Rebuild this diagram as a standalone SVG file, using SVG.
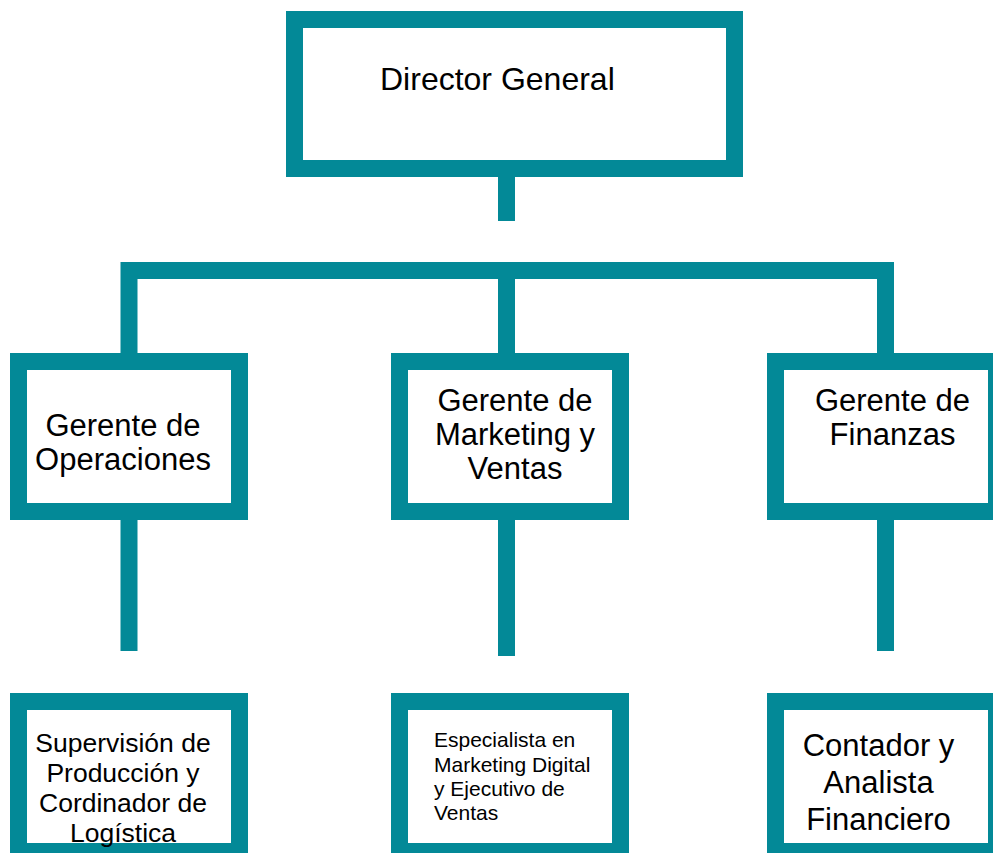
<svg xmlns="http://www.w3.org/2000/svg" width="993" height="853" viewBox="0 0 993 853">
<style>
.box{fill:#ffffff;stroke:#038997;stroke-width:17;}
.con{fill:none;stroke:#038997;stroke-width:17;stroke-linejoin:miter;stroke-linecap:butt;}
text{font-family:"Liberation Sans",Arial,sans-serif;fill:#000000;}
.c{text-anchor:middle;}
</style>
<rect width="993" height="853" fill="#ffffff"/>
<g id="connectors">
<line class="con" x1="506.5" y1="170" x2="506.5" y2="221"/>
<path class="con" d="M129,353 V270.5 H885.5 V353"/>
<line class="con" x1="506.5" y1="270" x2="506.5" y2="353"/>
<line class="con" x1="129" y1="515" x2="129" y2="651"/>
<line class="con" x1="506.5" y1="515" x2="506.5" y2="656"/>
<line class="con" x1="885.5" y1="515" x2="885.5" y2="651"/>
</g>
<g id="director">
<rect class="box" x="294.5" y="19.5" width="440" height="149"/>
<text x="380" y="90" font-size="32">Director General</text>
</g>
<g id="operaciones">
<rect class="box" x="18.5" y="361.5" width="221" height="150"/>
<text class="c" x="123" y="436" font-size="31">Gerente de</text>
<text class="c" x="123" y="470" font-size="31">Operaciones</text>
</g>
<g id="marketing">
<rect class="box" x="399.5" y="361.5" width="221" height="150"/>
<text class="c" x="515" y="411" font-size="31">Gerente de</text>
<text class="c" x="515" y="445" font-size="31">Marketing y</text>
<text class="c" x="515" y="479" font-size="31">Ventas</text>
</g>
<g id="finanzas">
<rect class="box" x="775.5" y="361.5" width="221" height="150"/>
<text class="c" x="892.5" y="411" font-size="31">Gerente de</text>
<text class="c" x="892.5" y="445" font-size="31">Finanzas</text>
</g>
<g id="produccion">
<rect class="box" x="18.5" y="701.5" width="221" height="150"/>
<text class="c" x="123" y="752" font-size="26.5">Supervisión de</text>
<text class="c" x="123" y="782" font-size="26.5">Producción y</text>
<text class="c" x="123" y="812" font-size="26.5">Cordinador de</text>
<text class="c" x="123" y="842" font-size="26.5">Logística</text>
</g>
<g id="especialista">
<rect class="box" x="399.5" y="701.5" width="221" height="150"/>
<text x="434" y="747" font-size="21">Especialista en</text>
<text x="434" y="772" font-size="21">Marketing Digital</text>
<text x="434" y="796" font-size="21">y Ejecutivo de</text>
<text x="434" y="820" font-size="21">Ventas</text>
</g>
<g id="contador">
<rect class="box" x="775.5" y="701.5" width="221" height="150"/>
<text class="c" x="878.5" y="756" font-size="31">Contador y</text>
<text class="c" x="878.5" y="793" font-size="31">Analista</text>
<text class="c" x="878.5" y="830" font-size="31">Financiero</text>
</g>
</svg>
